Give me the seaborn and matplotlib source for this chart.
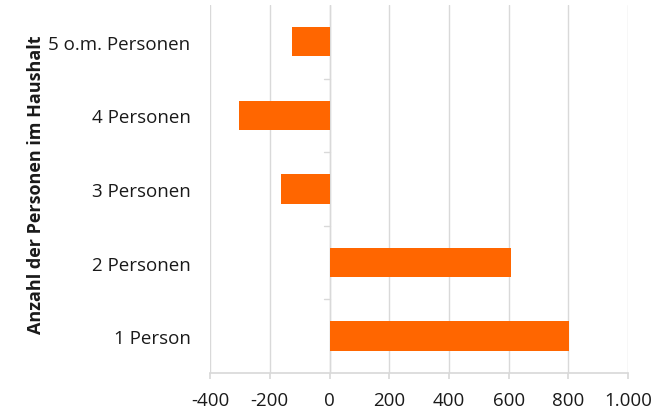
import matplotlib
matplotlib.use("Agg")
import matplotlib.pyplot as plt
import pandas as pd
import seaborn as sns

# values
categories = ["5 o.m. Personen", "4 Personen", "3 Personen", "2 Personen", "1 Person"]
values = [-125, -303, -161, 607, 802]
x_ticks = [-400, -200, 0, 200, 400, 600, 800, 1000]
x_tick_labels = ["-400", "-200", "0", "200", "400", "600", "800", "1.000"]

BAR_COLOR = "#FF6600"
GRID_COLOR = "#D9D9D9"
TEXT_COLOR = "#1A1A1A"

sns.set_theme(style="white")
plt.rcParams["font.family"] = ["Open Sans", "DejaVu Sans"]

df = pd.DataFrame({"kategorie": categories, "wert": values})

fig = plt.figure(figsize=(6.69, 4.14), dpi=100)
ax = fig.add_axes([0.314, 0.0966, 0.625, 0.889])

sns.barplot(data=df, x="wert", y="kategorie", order=categories, color=BAR_COLOR,
            width=0.4, saturation=1, linewidth=0, ax=ax)

ax.set_xlim(-400, 1000)
ax.set_ylim(len(categories) - 0.5, -0.5)
ax.set_xticks(x_ticks)
ax.set_xticklabels(x_tick_labels)
ax.xaxis.grid(True, color=GRID_COLOR, linewidth=1)
ax.set_axisbelow(True)

# vertical category axis sits at x=0 with short ticks between categories
ax.axvline(0, color=GRID_COLOR, linewidth=1, zorder=0.5)
for k in range(len(categories) - 1):
    ax.plot([-18, 0], [k + 0.5, k + 0.5], color=GRID_COLOR, linewidth=1, zorder=0.5)

for side in ["top", "right", "left"]:
    ax.spines[side].set_visible(False)
ax.spines["bottom"].set_color(GRID_COLOR)
ax.tick_params(axis="x", bottom=True, length=4, color=GRID_COLOR, pad=9,
               labelsize=13.5, labelcolor=TEXT_COLOR)
ax.tick_params(axis="y", left=False, length=0, pad=14, labelsize=13.5, labelcolor=TEXT_COLOR)

ax.set_xlabel("")
ax.set_ylabel("Anzahl der Personen im Haushalt", fontsize=13, fontweight="bold",
              color=TEXT_COLOR)
ax.yaxis.set_label_coords(-0.395, 0.514)

fig.savefig("out.png", dpi=100)
